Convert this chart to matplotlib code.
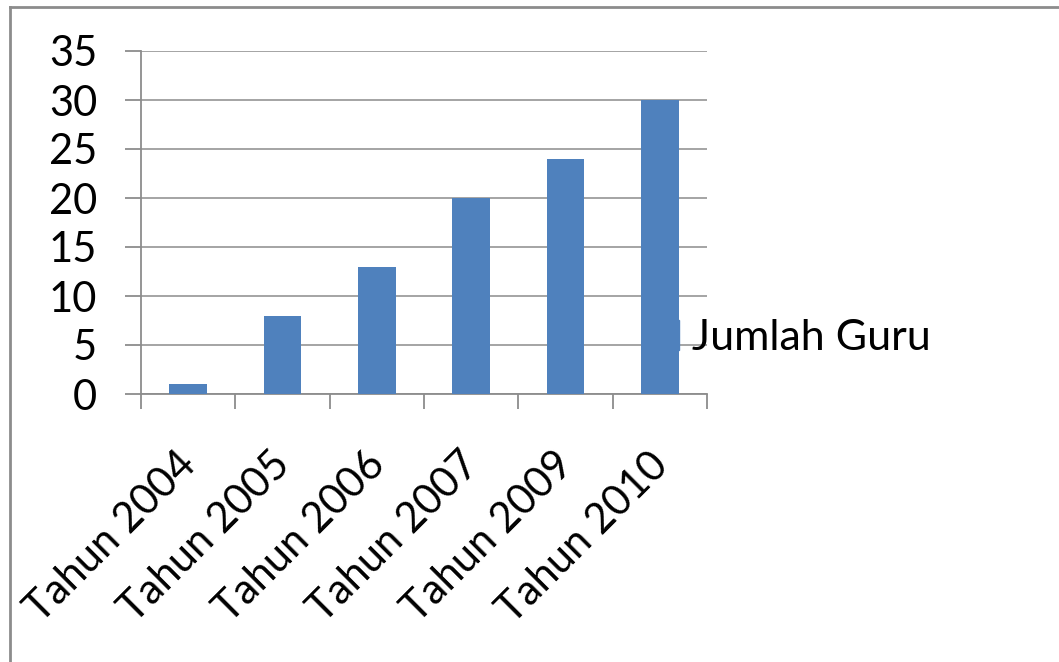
import matplotlib
matplotlib.use("Agg")
import matplotlib.pyplot as plt
import matplotlib.transforms as mtransforms
from matplotlib.lines import Line2D

categories = ["Tahun 2004", "Tahun 2005", "Tahun 2006", "Tahun 2007", "Tahun 2009", "Tahun 2010"]
values = [1, 8, 13, 20, 24, 30]
series_name = "Jumlah Guru"
yticks = [0, 5, 10, 15, 20, 25, 30, 35]

W, H = 1059, 662
fig = plt.figure(figsize=(W / 100, H / 100), dpi=100)
plt.rcParams['font.family'] = ['Lato', 'DejaVu Sans']

x0, x1 = 141, 707
y0, y1 = 394, 51
ax = fig.add_axes([x0 / W, 1 - y0 / H, (x1 - x0) / W, (y0 - y1) / H])

xs = list(range(len(categories)))
ax.bar(xs, values, width=0.4, color="#4f81bd", zorder=3, label=series_name)
ax.set_xlim(-0.5, len(categories) - 0.5)
ax.set_ylim(0, 35)
ax.set_yticks(yticks)
ax.set_yticklabels([str(v) for v in yticks], fontsize=30)
ax.yaxis.grid(True, color="#8c8c8c", linewidth=1.1, zorder=0)
ax.set_axisbelow(True)

for s in ["top", "right"]:
    ax.spines[s].set_visible(False)
ax.spines["left"].set_color("#8c8c8c")
ax.spines["bottom"].set_color("#8c8c8c")
ax.spines["left"].set_linewidth(1.3)
ax.spines["bottom"].set_linewidth(1.3)

ax.tick_params(axis="y", length=11.5, width=1.3, color="#8c8c8c", pad=20)
ax.set_xticks([i - 0.5 for i in range(len(categories) + 1)], minor=False)
ax.set_xticklabels([])
ax.tick_params(axis="x", which="major", length=11, width=1.3, color="#8c8c8c")
ax.set_xticks(xs, minor=True)
ax.set_xticklabels(categories, minor=True, rotation=45, ha="right",
                   rotation_mode="anchor", fontsize=30)
ax.tick_params(axis="x", which="minor", length=0, pad=37)
shift = mtransforms.ScaledTranslation(-12 / 100, 0, fig.dpi_scale_trans)
for lab in ax.get_xticklabels(minor=True):
    lab.set_transform(lab.get_transform() + shift)

leg = fig.legend(handles=[plt.Rectangle((0, 0), 1, 1, color="#4f81bd")],
                 labels=[series_name], loc="center left",
                 bbox_to_anchor=(668 / W, 1 - 338 / H), frameon=False,
                 fontsize=31, handlelength=0.26, handleheight=0.7,
                 handletextpad=0.29, borderpad=0, borderaxespad=0)

# outer frame (left and top edges visible)
fig.add_artist(Line2D([10 / W, 10 / W], [0, 1 - 7 / H], transform=fig.transFigure,
                      color="#8c8c8c", linewidth=2))
fig.add_artist(Line2D([10 / W, 1], [1 - 7 / H, 1 - 7 / H], transform=fig.transFigure,
                      color="#8c8c8c", linewidth=2))

fig.savefig("out.png", dpi=100, facecolor="white")
